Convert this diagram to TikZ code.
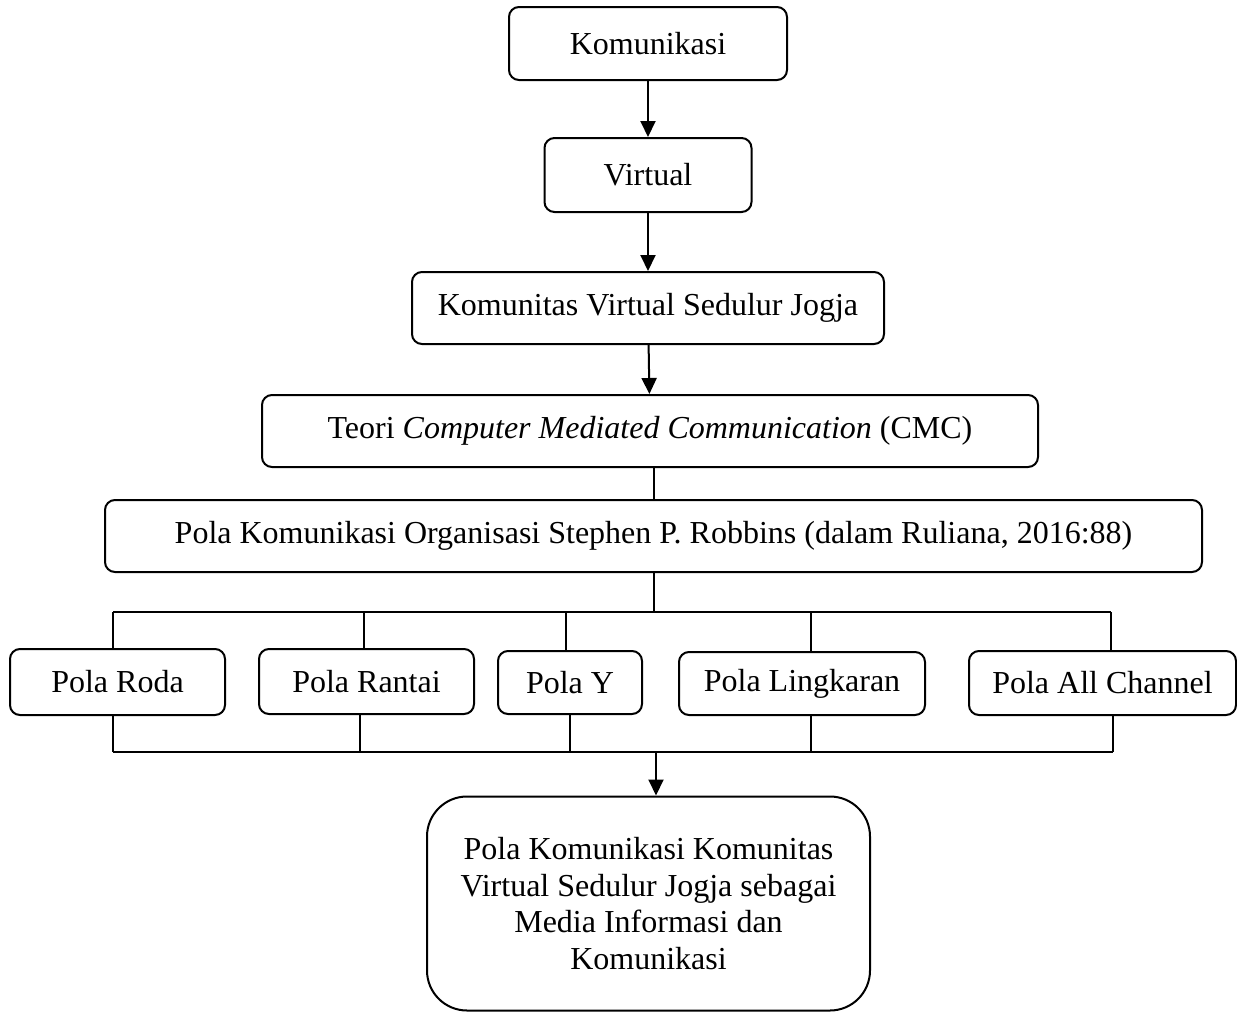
\documentclass[tikz,border=0pt]{standalone}
\usepackage{fontspec}
\setmainfont{Liberation Serif}
\usetikzlibrary{arrows.meta,positioning,calc}

\begin{document}
\begin{tikzpicture}[x=0.5pt,y=-0.5pt,
  box/.style={draw,line width=1pt,rounded corners=5pt,inner sep=0pt,align=center,
    font=\fontsize{16}{18.3}\selectfont},
  arr/.style={line width=1pt,-{Triangle[length=8pt,width=7.5pt]}},
  ln/.style={line width=1pt}]
  \useasboundingbox (0,0) rectangle (1237,1012);

  % main chain
  \node[box,minimum width=139pt,minimum height=36.5pt] (kom) at (648,43.5) {Komunikasi};
  \node[box,minimum width=103.5pt,minimum height=37pt] (virt) at (648,175) {Virtual};
  \node[box,minimum width=236pt,minimum height=36pt] (ksj) at (648,308) {Komunitas Virtual Sedulur Jogja};
  \node[box,minimum width=388pt,minimum height=36pt] (cmc) at (650,431) {Teori \textit{Computer Mediated Communication} (CMC)};
  \node[box,minimum width=548.5pt,minimum height=36pt] (pola) at (653.5,536) {Pola Komunikasi Organisasi Stephen P. Robbins (dalam Ruliana, 2016:88)};

  \draw[arr] (kom) -- (virt);
  \draw[arr] (virt) -- (ksj);
  \draw[arr] (ksj) -- (cmc);
  \draw[ln] (cmc.south -| pola.north) -- (pola.north);

  % five patterns
  \node[box,minimum width=107.5pt,minimum height=33pt] (roda) at (117.5,682) {Pola Roda};
  \node[box,minimum width=107.5pt,minimum height=32.5pt] (rantai) at (366.5,681.5) {Pola Rantai};
  \node[box,minimum width=72pt,minimum height=31.5pt] (poly) at (570,682.5) {Pola Y};
  \node[box,minimum width=123pt,minimum height=31.5pt] (lingk) at (802,683.5) {Pola Lingkaran};
  \node[box,minimum width=133.5pt,minimum height=32pt] (allch) at (1102.5,683) {Pola All Channel};

  % bus lines
  \coordinate (tRoda) at (113,612);   \coordinate (bRoda) at (113,752);
  \coordinate (tRantai) at (364,612); \coordinate (bRantai) at (360,752);
  \coordinate (tY) at (566,612);      \coordinate (bY) at (570,752);
  \coordinate (tLingk) at (811,612);  \coordinate (bLingk) at (811,752);
  \coordinate (tAll) at (1111,612);   \coordinate (bAll) at (1113,752);
  \draw[ln] (tRoda) -- (tAll);
  \draw[ln] (bRoda) -- (bAll);
  \draw[ln] (pola.south) -- (pola.south |- tRoda);
  \foreach \n/\c in {roda/Roda,rantai/Rantai,poly/Y,lingk/Lingk,allch/All}
  {
    \draw[ln] (t\c) -- (t\c |- \n.north);
    \draw[ln] (b\c) -- (b\c |- \n.south);
  }

  % result
  \node[box,rounded corners=20pt,minimum width=221.5pt,minimum height=107pt] (hasil) at (648.5,903.5)
    {Pola Komunikasi Komunitas\\Virtual Sedulur Jogja sebagai\\Media Informasi dan\\Komunikasi};
  \draw[arr] (hasil.north -| 656,0) ++(0,-43) coordinate (bMid) -- (bMid |- hasil.north);
\end{tikzpicture}
\end{document}
